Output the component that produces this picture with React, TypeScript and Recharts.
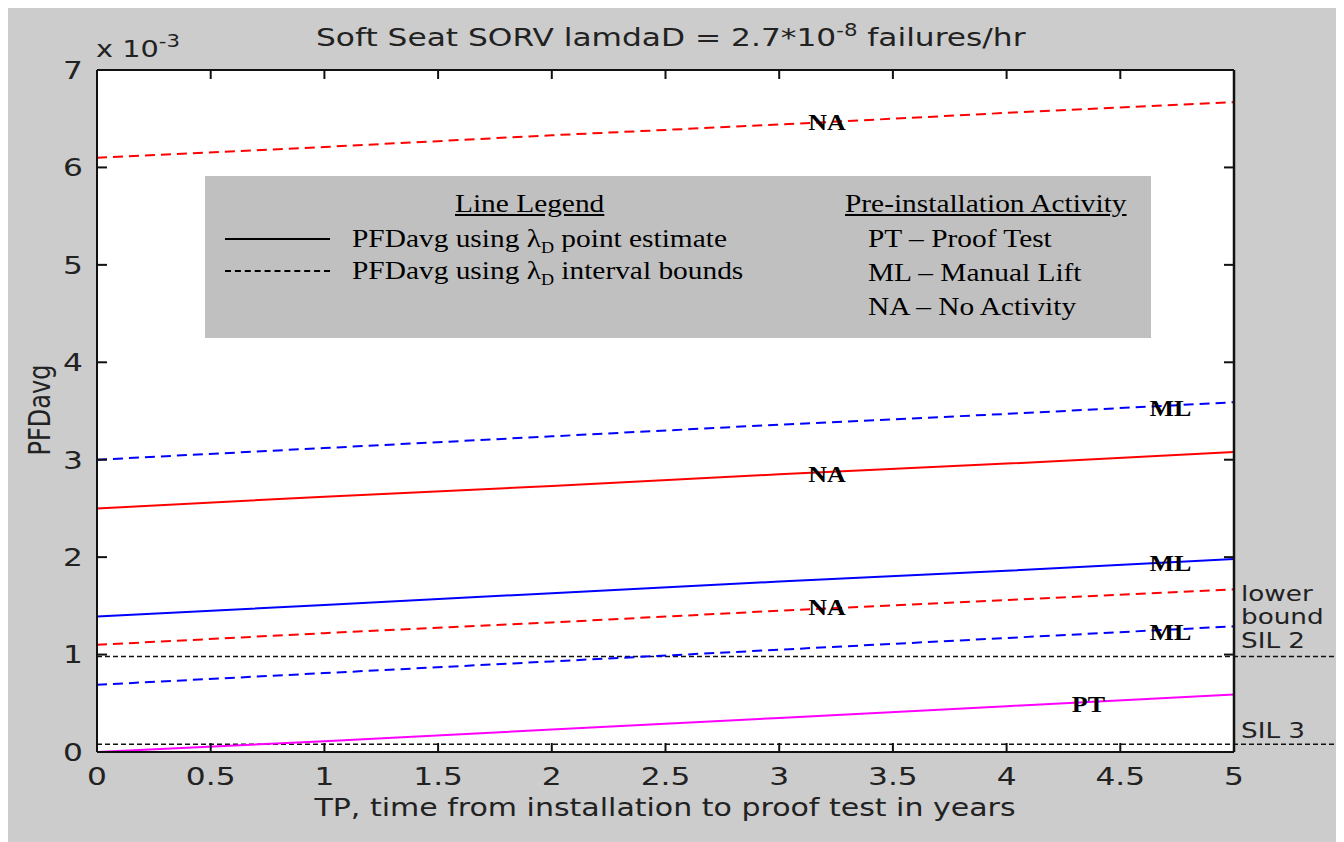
import React from 'react';
import { LineChart, Line, XAxis, YAxis, CartesianGrid, ReferenceLine, ReferenceDot } from 'recharts';

// TP in years
const years = [0, 1, 2, 3, 4, 5];

// PFDavg (x 10^-3)
const naUpper = [6.1, 6.21, 6.33, 6.44, 6.56, 6.67];
const mlUpper = [3.0, 3.12, 3.24, 3.36, 3.47, 3.59];
const naPoint = [2.5, 2.62, 2.73, 2.85, 2.96, 3.08];
const mlPoint = [1.39, 1.51, 1.63, 1.75, 1.86, 1.98];
const naLower = [1.1, 1.22, 1.33, 1.45, 1.56, 1.67];
const mlLower = [0.69, 0.81, 0.93, 1.05, 1.17, 1.29];
const ptPoint = [0.0, 0.11, 0.23, 0.35, 0.47, 0.59];

const silLevels = [0.98, 0.08];

const xTicks = [0, 0.5, 1, 1.5, 2, 2.5, 3, 3.5, 4, 4.5, 5];
const yTicks = [0, 1, 2, 3, 4, 5, 6, 7];

const tags = [
  { x: 3.21, y: 6.47, text: 'NA' },
  { x: 4.72, y: 3.53, text: 'ML' },
  { x: 3.21, y: 2.85, text: 'NA' },
  { x: 4.72, y: 1.94, text: 'ML' },
  { x: 3.21, y: 1.49, text: 'NA' },
  { x: 4.72, y: 1.23, text: 'ML' },
  { x: 4.36, y: 0.49, text: 'PT' },
];

const data = years.map((t, i) => ({
  t,
  naUpper: naUpper[i],
  mlUpper: mlUpper[i],
  naPoint: naPoint[i],
  mlPoint: mlPoint[i],
  naLower: naLower[i],
  mlLower: mlLower[i],
  ptPoint: ptPoint[i],
}));

const sans = '"DejaVu Sans", Arial, sans-serif';
const serif = '"Liberation Serif", "Times New Roman", serif';
const ink = '#222';
const wide = 'scale(1.25, 1)';

const abs = (left: number, top: number, extra: React.CSSProperties = {}): React.CSSProperties => ({
  position: 'absolute',
  left,
  top,
  whiteSpace: 'nowrap',
  lineHeight: 1,
  ...extra,
});

// the picture's text is stretched sideways, so the ticks are too
const WideTick = (props: any) => {
  const { x, y, payload, textAnchor, verticalAnchor } = props;
  return (
    <text
      transform={`translate(${x},${y}) ${wide}`}
      textAnchor={textAnchor}
      dy={verticalAnchor === 'start' ? '0.71em' : '0.355em'}
      fontFamily={sans}
      fontSize={25}
      fill={ink}
    >
      {payload.value}
    </text>
  );
};

const NoLabel = () => <g />;

const SilLine = (props: any) => (
  <line x1={props.x1} y1={props.y1} x2={props.x2 + 112} y2={props.y2} stroke="#111" strokeWidth={1.5} strokeDasharray="5 3" />
);

const tickStroke = { stroke: '#111', strokeWidth: 2 };

const App: React.FC = () => {
  return (
    <div style={{ position: 'relative', width: 1338, height: 836, marginLeft: -2, marginTop: -2, background: '#cccccc' }}>
      <LineChart width={1338} height={836} data={data} margin={{ top: 64, right: 110, bottom: 30, left: 31 }}>
        <CartesianGrid horizontal={false} vertical={false} fill="#ffffff" />
        <XAxis
          dataKey="t"
          type="number"
          domain={[0, 5]}
          ticks={xTicks}
          allowDataOverflow
          height={60}
          tickLine={false}
          tickSize={0}
          tickMargin={15}
          axisLine={{ stroke: '#111', strokeWidth: 2 }}
          tick={WideTick}
        />
        <XAxis xAxisId="bt" dataKey="t" type="number" domain={[0, 5]} ticks={xTicks} allowDataOverflow orientation="bottom" mirror tick={NoLabel} axisLine={false} tickSize={9} tickLine={tickStroke} />
        <XAxis xAxisId="top" dataKey="t" type="number" domain={[0, 5]} ticks={xTicks} allowDataOverflow orientation="top" mirror tick={NoLabel} axisLine={{ stroke: '#111', strokeWidth: 2 }} tickSize={9} tickLine={tickStroke} />
        <YAxis
          type="number"
          domain={[0, 7]}
          ticks={yTicks}
          allowDataOverflow
          width={60}
          tickLine={false}
          tickSize={0}
          tickMargin={14}
          axisLine={{ stroke: '#111', strokeWidth: 2 }}
          tick={WideTick}
        />
        <YAxis yAxisId="lt" type="number" domain={[0, 7]} ticks={yTicks} allowDataOverflow orientation="left" mirror tick={NoLabel} axisLine={false} tickSize={10} tickLine={tickStroke} />
        <YAxis yAxisId="rt" type="number" domain={[0, 7]} ticks={yTicks} allowDataOverflow orientation="right" mirror tick={NoLabel} axisLine={{ stroke: '#111', strokeWidth: 2.5 }} tickSize={10} tickLine={tickStroke} />

        {silLevels.map((v) => (
          <ReferenceLine key={v} y={v} shape={SilLine} />
        ))}

        <Line dataKey="naUpper" type="linear" stroke="#ff0000" strokeWidth={2} strokeDasharray="10 6" dot={false} isAnimationActive={false} />
        <Line dataKey="mlUpper" type="linear" stroke="#0000ff" strokeWidth={2} strokeDasharray="10 6" dot={false} isAnimationActive={false} />
        <Line dataKey="naPoint" type="linear" stroke="#ff0000" strokeWidth={2} dot={false} isAnimationActive={false} />
        <Line dataKey="mlPoint" type="linear" stroke="#0000ff" strokeWidth={2} dot={false} isAnimationActive={false} />
        <Line dataKey="naLower" type="linear" stroke="#ff0000" strokeWidth={2} strokeDasharray="10 6" dot={false} isAnimationActive={false} />
        <Line dataKey="mlLower" type="linear" stroke="#0000ff" strokeWidth={2} strokeDasharray="10 6" dot={false} isAnimationActive={false} />
        <Line dataKey="ptPoint" type="linear" stroke="#ff00ff" strokeWidth={2} dot={false} isAnimationActive={false} />

        {tags.map((g, i) => (
          <ReferenceDot
            key={i}
            x={g.x}
            y={g.y}
            r={1}
            shape={(p: any) => (
              <text
                transform={`translate(${p.cx},${p.cy}) scale(1.13, 1)`}
                textAnchor="middle"
                dominantBaseline="central"
                fontFamily={serif}
                fontWeight="bold"
                fontSize={23}
                fill="#000"
              >
                {g.text}
              </text>
            )}
          />
        ))}
      </LineChart>

      {/* title and axis annotations */}
      <div style={abs(310, 16, { fontFamily: sans, fontSize: 25, color: ink, transform: wide, transformOrigin: 'left top' })}>
        Soft Seat SORV lamdaD = 2.7*10<sup style={{ fontSize: 17, verticalAlign: 10 }}>-8</sup> failures/hr
      </div>
      <div style={abs(90, 27, { fontFamily: sans, fontSize: 23, color: ink, transform: wide, transformOrigin: 'left top' })}>
        x 10<sup style={{ fontSize: 17, verticalAlign: 10 }}>-3</sup>
      </div>
      <div style={abs(34, 404, { fontFamily: sans, fontSize: 24, color: ink, transform: 'translate(-50%, -50%) rotate(-90deg) scale(1, 1.25)' })}>
        PFDavg
      </div>
      <div style={abs(659, 802, { fontFamily: sans, fontSize: 24, color: ink, transform: `translate(-50%, -50%) ${wide}` })}>
        TP, time from installation to proof test in years
      </div>
      <div style={abs(1235, 578, { fontFamily: sans, fontSize: 21, color: ink, transform: wide, transformOrigin: 'left top' })}>
        lower
      </div>
      <div style={abs(1235, 601, { fontFamily: sans, fontSize: 21, color: ink, transform: wide, transformOrigin: 'left top' })}>
        bound
      </div>
      <div style={abs(1235, 625, { fontFamily: sans, fontSize: 21, color: ink, transform: wide, transformOrigin: 'left top' })}>
        SIL 2
      </div>
      <div style={abs(1235, 715, { fontFamily: sans, fontSize: 21, color: ink, transform: wide, transformOrigin: 'left top' })}>
        SIL 3
      </div>

      {/* legend box */}
      <div style={abs(199, 170, { width: 946, height: 162, background: '#c0c0c0', fontFamily: serif, fontSize: 26, color: '#000' })}>
        {[
          { left: 250, top: 15, u: true, body: <>Line Legend</> },
          { left: 147, top: 50, body: <>PFDavg using λ<sub style={{ fontSize: 16 }}>D</sub> point estimate</> },
          { left: 147, top: 82, body: <>PFDavg using λ<sub style={{ fontSize: 16 }}>D</sub> interval bounds</> },
          { left: 640, top: 15, u: true, body: <>Pre-installation Activity</> },
          { left: 663, top: 50, body: <>PT – Proof Test</> },
          { left: 663, top: 84, body: <>ML – Manual Lift</> },
          { left: 663, top: 118, body: <>NA – No Activity</> },
        ].map((r, i) => (
          <div
            key={i}
            style={abs(r.left, r.top, {
              textDecoration: r.u ? 'underline' : 'none',
              transform: 'scale(1.13, 1)',
              transformOrigin: 'left top',
            })}
          >
            {r.body}
          </div>
        ))}
        <div style={abs(20, 62, { width: 105, borderTop: '2px solid #000' })} />
        <div style={abs(20, 94, { width: 105, borderTop: '2px dashed #000' })} />
      </div>
    </div>
  );
};

export default App;
